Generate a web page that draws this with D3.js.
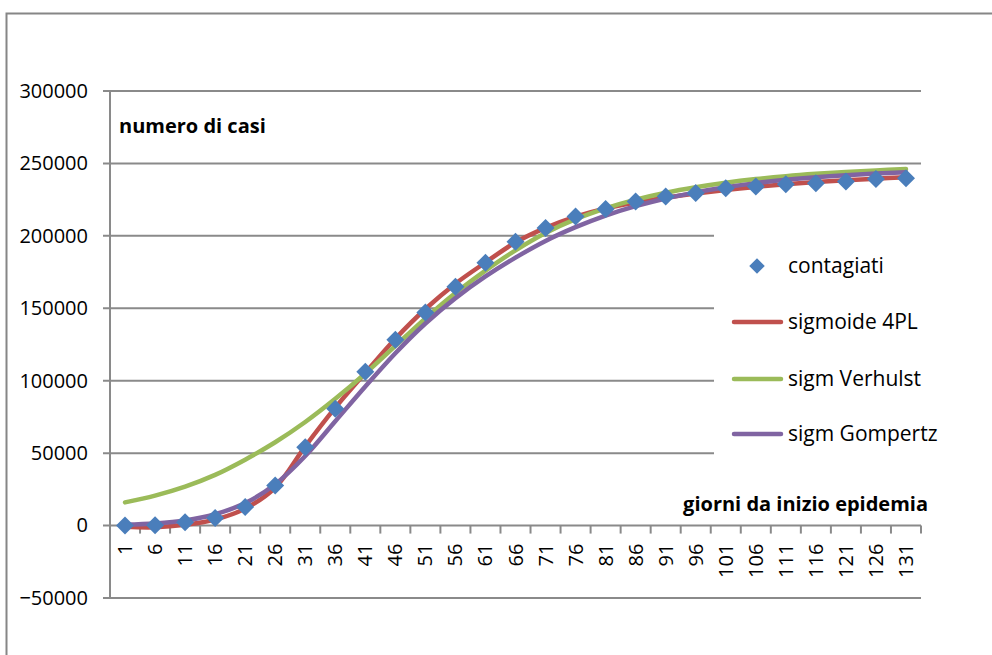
<!DOCTYPE html>
<html>
<head>
<meta charset="utf-8">
<script src="https://cdn.jsdelivr.net/npm/d3@7"></script>
<style>
  body { margin: 0; background: #fff; }
  text { font-family: "Open Sans", "Noto Sans", sans-serif; fill: #000; }
</style>
</head>
<body>
<div id="chart"></div>
<script>
// days since the start of the epidemic (category axis)
const days = [1, 6, 11, 16, 21, 26, 31, 36, 41, 46, 51, 56, 61, 66, 71, 76, 81, 86, 91, 96, 101, 106, 111, 116, 121, 126, 131];

// observed cases
const contagiati = [0, 200, 2300, 5300, 12900, 27600, 54000, 80700, 106200, 128300, 147100, 164800, 181400, 195900,
  205500, 213300, 218600, 223700, 227100, 229500, 232900, 234000, 235700, 236400, 237500, 239300, 239800];

// fitted curves
const sigmoide4PL = [-900, -1200, 500, 4100, 11700, 26200, 54700, 81400, 105500, 129000, 149500, 167000, 181600, 195500,
  205500, 213300, 219000, 223000, 226300, 229200, 231700, 233800, 235600, 237100, 238400, 239500, 240400];
const sigmVerhulst = [16000, 20700, 26900, 35000, 45500, 57500, 71500, 87500, 105000, 124000, 143000, 160500, 176000, 190000,
  202000, 211500, 219000, 225000, 229800, 233600, 236700, 239200, 241200, 242800, 244100, 245200, 246100];
const sigmGompertz = [700, 1500, 3500, 7800, 15500, 28500, 48000, 72000, 96000, 119000, 139500, 157000, 172000, 185000,
  196500, 206000, 214000, 220500, 225800, 230000, 233500, 236400, 238700, 240500, 241900, 243000, 243900];

const yTicks = [-50000, 0, 50000, 100000, 150000, 200000, 250000, 300000];

const lineSeries = [
  { name: "sigmoide 4PL", values: sigmoide4PL, color: "#C0504D" },
  { name: "sigm Verhulst", values: sigmVerhulst, color: "#9BBB59" },
  { name: "sigm Gompertz", values: sigmGompertz, color: "#8064A2" }
];
const pointName = "contagiati";
const pointColor = "#4A7EBB";

const config = {
  width: 992,
  height: 655,
  plotLeft: 110,
  plotRight: 921,
  plotTop: 91,
  plotBottom: 598,
  grid: "#8a8a8a"
};

const svg = d3.select("#chart").append("svg")
  .attr("width", config.width)
  .attr("height", config.height);

// chart area border (runs off the right/bottom edge like the screenshot)
svg.append("rect")
  .attr("x", 6.5).attr("y", 13.5)
  .attr("width", 1100).attr("height", 800)
  .attr("fill", "#fff")
  .attr("stroke", "#868686")
  .attr("stroke-width", 2);

// Scales
const x = d3.scaleBand()
  .domain(days)
  .range([config.plotLeft, config.plotRight])
  .padding(0);

const y = d3.scaleLinear()
  .domain([-50000, 300000])
  .range([config.plotBottom, config.plotTop]);

const cx = d => x(d) + x.bandwidth() / 2;

// Horizontal gridlines (with the small outward tick on the left)
svg.append("g")
  .selectAll("line")
  .data(yTicks)
  .join("line")
  .attr("x1", config.plotLeft - 7)
  .attr("x2", config.plotRight)
  .attr("y1", d => y(d))
  .attr("y2", d => y(d))
  .attr("stroke", config.grid)
  .attr("stroke-width", 2);

// Y axis labels
const yAxis = d3.axisLeft(y)
  .tickValues(yTicks)
  .tickSize(0)
  .tickPadding(22)
  .tickFormat(d3.format("d"));

const yAxisG = svg.append("g")
  .attr("transform", `translate(${config.plotLeft},0)`)
  .call(yAxis);
yAxisG.select(".domain").remove();
yAxisG.selectAll("text")
  .attr("font-family", "'Open Sans', sans-serif")
  .attr("font-size", 20)
  .attr("fill", "#000");

// Y axis line
svg.append("line")
  .attr("x1", config.plotLeft).attr("x2", config.plotLeft)
  .attr("y1", y(300000)).attr("y2", y(-50000))
  .attr("stroke", config.grid)
  .attr("stroke-width", 2);

// X axis tick marks between categories
const boundaries = days.map(d => x(d)).concat([config.plotRight]);
svg.append("g")
  .selectAll("line")
  .data(boundaries)
  .join("line")
  .attr("x1", d => d).attr("x2", d => d)
  .attr("y1", y(0)).attr("y2", y(0) + 8)
  .attr("stroke", config.grid)
  .attr("stroke-width", 2);

// X axis labels, rotated
svg.append("g")
  .selectAll("text")
  .data(days)
  .join("text")
  .attr("transform", d => `translate(${cx(d)},${y(0) + 18}) rotate(-90)`)
  .attr("text-anchor", "end")
  .attr("dy", "0.35em")
  .attr("font-size", 20)
  .text(d => d);

// Axis titles
svg.append("text")
  .attr("x", 119).attr("y", 133)
  .attr("font-size", 20)
  .attr("font-weight", "bold")
  .text("numero di casi");

svg.append("text")
  .attr("x", 928).attr("y", 511)
  .attr("text-anchor", "end")
  .attr("font-size", 20)
  .attr("font-weight", "bold")
  .text("giorni da inizio epidemia");

// Fitted lines
const line = d3.line()
  .x((v, i) => cx(days[i]))
  .y(v => y(v))
  .curve(d3.curveCatmullRom.alpha(0.5));

svg.append("g")
  .selectAll("path")
  .data(lineSeries)
  .join("path")
  .attr("d", s => line(s.values))
  .attr("fill", "none")
  .attr("stroke", s => s.color)
  .attr("stroke-width", 4.5)
  .attr("stroke-linecap", "round")
  .attr("stroke-linejoin", "round");

// Observed points as diamonds
const diamond = d3.symbol(d3.symbolSquare, 162);
svg.append("g")
  .selectAll("path")
  .data(contagiati)
  .join("path")
  .attr("d", diamond)
  .attr("transform", (v, i) => `translate(${cx(days[i])},${y(v)}) rotate(45)`)
  .attr("fill", pointColor);

// Legend
const legend = svg.append("g");
legend.append("rect")
  .attr("x", 714).attr("y", 205)
  .attr("width", 270).attr("height", 262)
  .attr("fill", "#fff");

legend.append("path")
  .attr("d", d3.symbol(d3.symbolSquare, 120))
  .attr("transform", "translate(757,266) rotate(45)")
  .attr("fill", pointColor);
legend.append("text")
  .attr("x", 788).attr("y", 266)
  .attr("dy", "0.35em")
  .attr("font-size", 21)
  .text(pointName);

const legendY = [322, 379, 434];
lineSeries.forEach((s, i) => {
  legend.append("line")
    .attr("x1", 734).attr("x2", 781)
    .attr("y1", legendY[i]).attr("y2", legendY[i])
    .attr("stroke", s.color)
    .attr("stroke-width", 4.5)
    .attr("stroke-linecap", "round");
  legend.append("text")
    .attr("x", 788).attr("y", legendY[i])
    .attr("dy", "0.35em")
    .attr("font-size", 21)
    .text(s.name);
});
</script>
</body>
</html>
